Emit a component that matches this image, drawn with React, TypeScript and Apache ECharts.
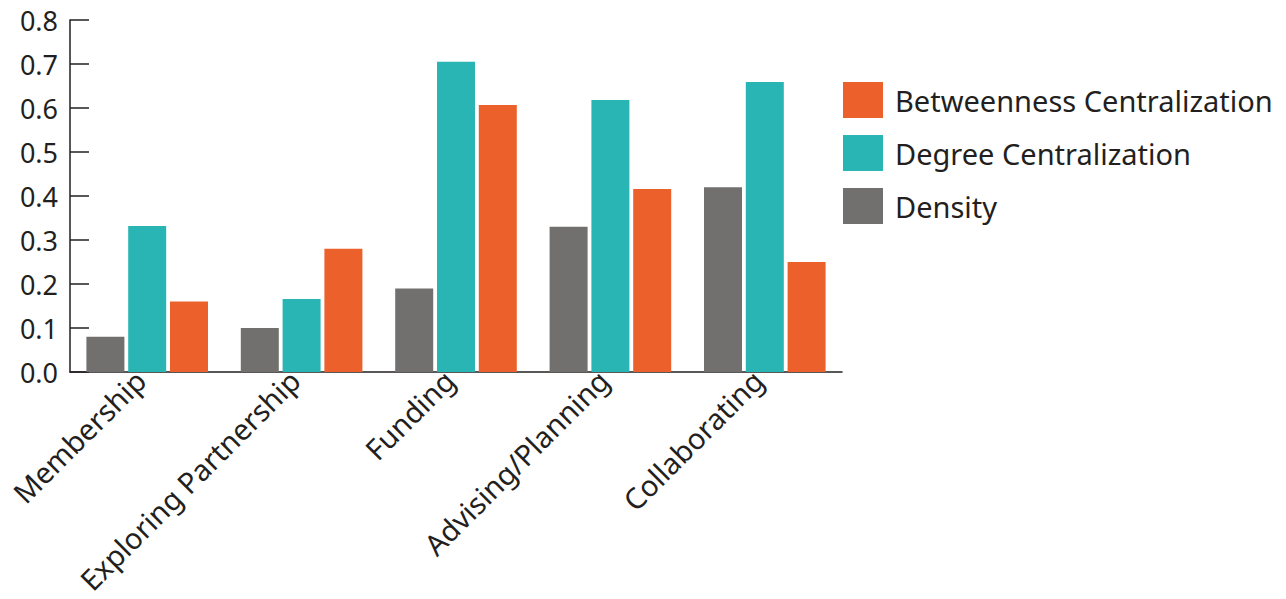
import React, { useEffect, useRef } from "react";
import * as echarts from "echarts";

const categories = ["Membership", "Exploring Partnership", "Funding", "Advising/Planning", "Collaborating"];
const density = [0.08, 0.1, 0.19, 0.33, 0.42];
const degreeCentralization = [0.332, 0.166, 0.705, 0.618, 0.659];
const betweennessCentralization = [0.16, 0.28, 0.607, 0.416, 0.25];
const yTicks = [0, 0.1, 0.2, 0.3, 0.4, 0.5, 0.6, 0.7, 0.8];

const GRAY = "#71706e";
const TEAL = "#29b5b3";
const ORANGE = "#eb602b";
const INK = "#231f20";
const FONT = "Noto Sans";

export default function App() {
  const ref = useRef<HTMLDivElement>(null);

  useEffect(() => {
    if (!ref.current) return;
    const chart = echarts.init(ref.current, undefined, { renderer: "svg" });
    const bar = (name: string, data: number[], color: string) => ({
      name,
      type: "bar",
      data,
      barWidth: 38,
      barGap: "10%",
      itemStyle: { color },
    });
    chart.setOption({
      animation: false,
      backgroundColor: "#ffffff",
      grid: {
        left: 70,
        right: 444,
        top: 20,
        bottom: 227,
        containLabel: false,
        outerBoundsMode: "none",
      },
      legend: {
        orient: "vertical",
        left: 843,
        top: 82,
        padding: 0,
        itemWidth: 40,
        itemHeight: 36,
        itemGap: 17,
        icon: "rect",
        data: ["Betweenness Centralization", "Degree Centralization", "Density"],
        textStyle: { color: INK, fontSize: 29, fontFamily: FONT, padding: [0, 0, 0, 7] },
      },
      xAxis: {
        type: "category",
        data: categories,
        axisLine: { lineStyle: { color: INK, width: 1.5 } },
        axisTick: { inside: true, length: 8, lineStyle: { color: INK, width: 1.5 } },
        axisLabel: {
          rotate: 45,
          interval: 0,
          margin: 10,
          color: INK,
          fontSize: 29,
          fontFamily: FONT,
          verticalAlign: "bottom",
          lineHeight: 20,
        },
      },
      yAxis: {
        type: "value",
        min: 0,
        max: 0.8,
        interval: 0.1,
        splitLine: { show: false },
        axisLine: { show: true, lineStyle: { color: INK, width: 1.5 } },
        axisTick: { show: true, inside: true, length: 19, lineStyle: { color: INK, width: 1.5 } },
        axisLabel: {
          margin: 12,
          color: INK,
          fontSize: 27,
          fontFamily: FONT,
          formatter: (v: number) => {
            const t = yTicks.find((x) => Math.abs(x - v) < 1e-9);
            return (t ?? v).toFixed(1);
          },
        },
      },
      series: [
        bar("Density", density, GRAY),
        bar("Degree Centralization", degreeCentralization, TEAL),
        bar("Betweenness Centralization", betweennessCentralization, ORANGE),
      ],
    });
    return () => chart.dispose();
  }, []);

  return (
    <div
      ref={ref}
      style={{ position: "fixed", left: 0, top: 0, width: 1286, height: 599, background: "#fff" }}
    />
  );
}
